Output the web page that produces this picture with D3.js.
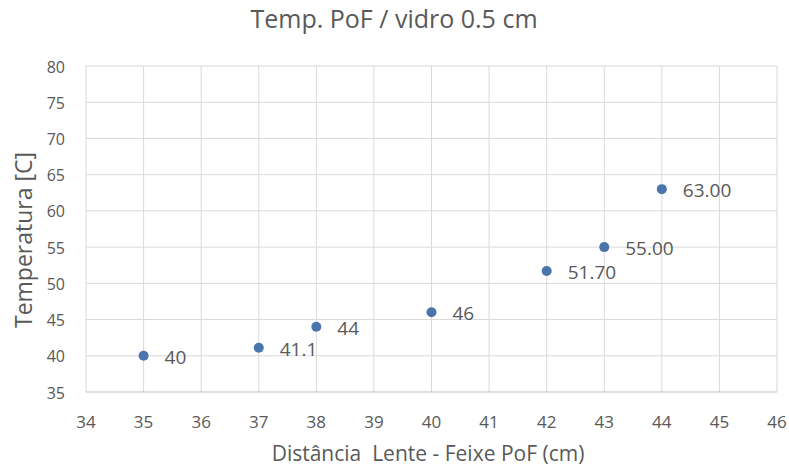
<!DOCTYPE html>
<html><head><meta charset="utf-8">
<script src="https://cdn.jsdelivr.net/npm/d3@7"></script>
<style>body{margin:0;background:#fff}text{font-family:"Open Sans","Noto Sans",sans-serif;fill:#595959;white-space:pre}</style>
</head><body><svg id="c" width="789" height="470"></svg>
<script>
const xValues = [35, 37, 38, 40, 42, 43, 44];
const yValues = [40, 41.1, 44, 46, 51.7, 55, 63];
const pointLabels = ["40", "41.1", "44", "46", "51.70", "55.00", "63.00"];
const xTicks = d3.range(34, 47, 1);
const yTicks = d3.range(35, 81, 5);

const svg = d3.select("#c");
const m = {l: 86, r: 777, t: 66, b: 392};
const x = d3.scaleLinear().domain([34, 46]).range([m.l, m.r]);
const y = d3.scaleLinear().domain([35, 80]).range([m.b, m.t]);

const g = svg.append("g");
g.selectAll(".vg").data(xTicks).join("line")
  .attr("x1", d => x(d)).attr("x2", d => x(d)).attr("y1", m.t).attr("y2", m.b)
  .attr("stroke", "#d9d9d9").attr("stroke-width", 1);
g.selectAll(".hg").data(yTicks).join("line")
  .attr("x1", m.l).attr("x2", m.r).attr("y1", d => y(d)).attr("y2", d => y(d))
  .attr("stroke", d => d === 35 ? "#bfbfbf" : "#d9d9d9").attr("stroke-width", 1);

g.selectAll(".xt").data(xTicks).join("text")
  .attr("x", d => x(d)).attr("y", 428).attr("text-anchor", "middle")
  .attr("font-size", 17).text(d => d);
g.selectAll(".yt").data(yTicks).join("text")
  .attr("x", 65).attr("y", d => y(d) + 6.5).attr("text-anchor", "end")
  .attr("font-size", 16).text(d => d);

const data = xValues.map((v, i) => ({x: v, y: yValues[i], l: pointLabels[i]}));
g.selectAll(".pt").data(data).join("circle")
  .attr("cx", d => x(d.x)).attr("cy", d => y(d.y)).attr("r", 5)
  .attr("fill", "#4a74ac");
g.selectAll(".pl").data(data).join("text")
  .attr("x", d => x(d.x) + 21).attr("y", d => y(d.y) + 8)
  .attr("font-size", 19).text(d => d.l);

svg.append("text").attr("x", 394).attr("y", 28).attr("text-anchor", "middle")
  .attr("font-size", 25).text("Temp. PoF / vidro 0.5 cm");
svg.append("text").attr("x", 428).attr("y", 461).attr("text-anchor", "middle")
  .attr("font-size", 21).text("Distância  Lente - Feixe PoF (cm)");
svg.append("text").attr("transform", "translate(32,240) rotate(-90)").attr("text-anchor", "middle")
  .attr("font-size", 23).text("Temperatura [C]");
</script></body></html>
